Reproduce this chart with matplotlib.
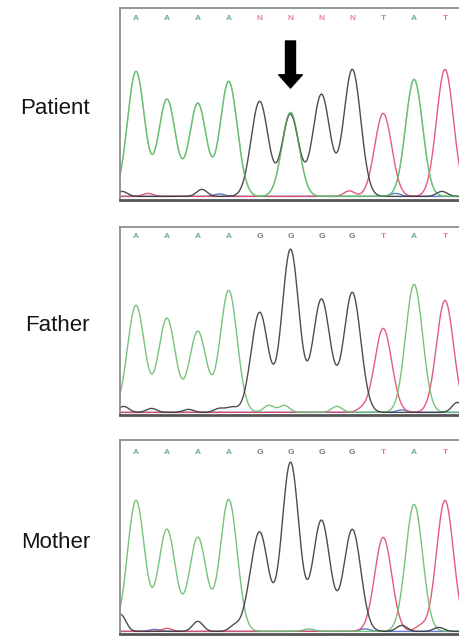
import numpy as np
import matplotlib
matplotlib.use("Agg")
import matplotlib.pyplot as plt

# Sanger traces, peak heights read at each base call (arbitrary units)
labels = ["Patient", "Father", "Mother"]
calls = [
    ["A", "A", "A", "A", "N", "N", "N", "N", "T", "A", "T"],
    ["A", "A", "A", "A", "G", "G", "G", "G", "T", "A", "T"],
    ["A", "A", "A", "A", "G", "G", "G", "G", "T", "A", "T"],
]

# peaks per channel (A = green, G = black, T = red)
patient_A = [1250, 970, 930, 1150, 0, 840, 0, 0, 0, 1170, 0]
patient_G = [0, 0, 0, 0, 950, 800, 1020, 1270, 0, 0, 0]
patient_T = [0, 0, 0, 0, 0, 0, 0, 0, 830, 0, 1270]

father_A = [1070, 940, 810, 1220, 0, 0, 0, 0, 0, 1280, 0]
father_G = [0, 0, 0, 0, 1000, 1630, 1130, 1200, 0, 0, 0]
father_T = [0, 0, 0, 0, 0, 0, 0, 0, 840, 0, 1120]

mother_A = [1310, 1020, 940, 1320, 0, 0, 0, 0, 0, 1270, 0]
mother_G = [0, 0, 0, 0, 990, 1690, 1110, 1020, 0, 0, 0]
mother_T = [0, 0, 0, 0, 0, 0, 0, 0, 940, 0, 1310]

# small background bumps near the baseline: (position, height)
patient_noise = {
    "G": [(-0.45, 50), (2.13, 70), (4.9, 25), (9.9, 50)],
    "T": [(0.39, 30), (6.9, 55)],
    "C": [(2.7, 25), (8.4, 30)],
    "A": [(1.4, 15), (3.5, 20)],
}
father_noise = {
    "G": [(-0.4, 60), (0.5, 40), (1.7, 30), (2.7, 40), (3.1, 50), (6.4, 30), (10.4, 100)],
    "A": [(4.3, 70), (4.8, 70), (6.5, 60)],
    "T": [(7.3, 30)],
    "C": [(8.6, 25)],
}
mother_noise = {
    "G": [(-0.5, 170), (2.0, 100), (3.2, 60), (3.6, 70), (8.6, 60), (9.8, 40)],
    "T": [(1.0, 30), (9.2, 50)],
    "A": [(5.6, 25)],
    "C": [(0.6, 20), (7.4, 25)],
}

traces = [
    (patient_A, patient_G, patient_T, patient_noise),
    (father_A, father_G, father_T, father_noise),
    (mother_A, mother_G, mother_T, mother_noise),
]

col = {"A": "#66bd6e", "G": "#3a3a3a", "T": "#e04a6a", "C": "#4a6fd0"}
letter_col = {"A": "#3f9a78", "G": "#555555", "T": "#e2506e", "N": "#e06a82"}

W, H = 459, 636
# panel frames in pixels: (top, bottom, baseline)
frames = [(8, 200, 197), (227, 415, 413), (440, 634, 632)]
label_y = [108, 325, 542]
letter_h = [1790, 1760, 1800]

fig = plt.figure(figsize=(W / 100, H / 100), dpi=100)
x = np.linspace(-0.7, 10.8, 1500)
sig = 0.275
left_px, right_px, first_px, step_px = 120, 462, 136, 30.9

def peaks(hs):
    y = np.zeros_like(x)
    for i, h in enumerate(hs):
        y += h * np.exp(-(x - i) ** 2 / (2 * sig ** 2))
    return y

def bumps(lst):
    y = np.zeros_like(x)
    for p, h in lst:
        y += h * np.exp(-(x - p) ** 2 / (2 * 0.17 ** 2))
    return y

for k in range(3):
    top, bot, base = frames[k]
    ax = fig.add_axes([left_px / W, 1 - bot / H, (right_px - left_px) / W, (bot - top) / H])
    a, g, t, nz = traces[k]
    ch = {"A": peaks(a), "G": peaks(g), "T": peaks(t), "C": np.zeros_like(x)}
    for c in ch:
        ch[c] = ch[c] + bumps(nz.get(c, [])) + 6
    for c in ["C", "T", "A", "G"]:
        ax.plot(x, ch[c], color=col[c], lw=1.0, alpha=0.9, solid_joinstyle="round")
    if k == 0:
        # patient: overlapping G/A signal at the mutated position
        ax.plot(x, ch["A"], color=col["A"], lw=1.0, alpha=0.6)
    for i, b in enumerate(calls[k]):
        ax.text(i, letter_h[k], b, color=letter_col[b], fontsize=6, fontweight="bold",
                ha="center", va="center", alpha=0.8, family="Liberation Sans")
    x0 = -(first_px - left_px) / step_px
    x1 = (right_px - first_px) / step_px
    ax.set_xlim(x0, x1)
    ax.set_ylim(-(bot - base) * 10, (base - top) * 10)
    ax.set_xticks([])
    ax.set_yticks([])
    for s in ax.spines.values():
        s.set_color("#8c8c8c")
        s.set_linewidth(1.3)
    ax.spines["bottom"].set_color("#555555")
    ax.spines["bottom"].set_linewidth(2.0)
    ax.spines["right"].set_visible(False)
    if k == 0:
        ax.annotate("", xy=(5, 1090), xytext=(5, 1560),
                    arrowprops=dict(arrowstyle="simple,head_width=1.7,head_length=0.95,tail_width=0.72",
                                    mutation_scale=10, color="black", shrinkA=0, shrinkB=0))
    fig.text(90 / W, 1 - label_y[k] / H, labels[k], ha="right", va="center",
             fontsize=16, family="Liberation Sans", color="#151515")

fig.savefig("out.png", dpi=100)
